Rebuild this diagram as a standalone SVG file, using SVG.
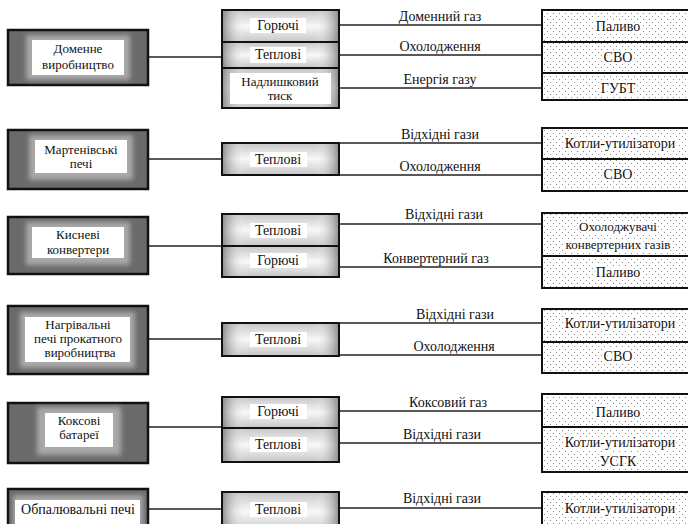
<svg xmlns="http://www.w3.org/2000/svg" width="688" height="524" viewBox="0 0 688 524" font-family="'Times New Roman', 'Liberation Serif', 'DejaVu Serif', 'Noto Serif', FreeSerif, serif">
  <defs>
    <!-- soft glow behind the white label of the source boxes -->
    <filter id="soft" x="-30%" y="-50%" width="160%" height="200%">
      <feGaussianBlur stdDeviation="2.5"/>
    </filter>
    <!-- shaded background of the energy-type cells -->
    <linearGradient id="cellV" x1="0" y1="0" x2="0" y2="1">
      <stop offset="0" stop-color="#c6c6c6"/>
      <stop offset="0.5" stop-color="#f8f8f8"/>
      <stop offset="1" stop-color="#c6c6c6"/>
    </linearGradient>
    <linearGradient id="cellH" x1="0" y1="0" x2="1" y2="0">
      <stop offset="0" stop-color="#808080" stop-opacity="0.8"/>
      <stop offset="0.2" stop-color="#ffffff" stop-opacity="0"/>
      <stop offset="0.8" stop-color="#ffffff" stop-opacity="0"/>
      <stop offset="1" stop-color="#808080" stop-opacity="0.8"/>
    </linearGradient>
    <!-- dotted fill of the consumer boxes -->
    <pattern id="dots" width="6" height="6" patternUnits="userSpaceOnUse">
      <rect width="6" height="6" fill="#fff"/>
      <rect x="1" y="1" width="1" height="1" fill="#8a8a8a"/>
      <rect x="4" y="4" width="1" height="1" fill="#8a8a8a"/>
    </pattern>
    <style>
      text { font-family: "Times New Roman", "Liberation Serif", "DejaVu Serif", "Noto Serif", FreeSerif, serif; font-size: 14px; fill: #111; text-anchor: middle; }
      .sm { font-size: 13px; }
      .src-frame { fill: #6a6a6a; stroke: #111; stroke-width: 2.5; }
      .src-glow { fill: #a9a9a9; filter: url(#soft); }
      .src-label { fill: #fff; }
      .cell { fill: url(#cellV); stroke: #111; stroke-width: 2; }
      .cell-shade { fill: url(#cellH); }
      .cell-label { fill: #fff; }
      .use-box { fill: url(#dots); stroke: #111; stroke-width: 2; }
      .use-text { paint-order: stroke; stroke: #fff; stroke-width: 4px; stroke-linejoin: round; }
      .wire { stroke: #222; stroke-width: 1.6; fill: none; }
    </style>
  </defs>

  <rect width="688" height="524" fill="#fff"/>

  <!-- connectors -->
  <g id="connectors">
    <line class="wire" x1="148" y1="57" x2="222" y2="57"/>
    <line class="wire" x1="339" y1="25" x2="542" y2="25"/>
    <line class="wire" x1="339" y1="55" x2="542" y2="55"/>
    <line class="wire" x1="339" y1="88" x2="542" y2="88"/>

    <line class="wire" x1="148" y1="159" x2="222" y2="159"/>
    <line class="wire" x1="339" y1="143" x2="542" y2="143"/>
    <line class="wire" x1="339" y1="175" x2="542" y2="175"/>

    <line class="wire" x1="148" y1="246" x2="222" y2="246"/>
    <line class="wire" x1="339" y1="224" x2="542" y2="224"/>
    <line class="wire" x1="339" y1="267" x2="542" y2="267"/>

    <line class="wire" x1="148" y1="339" x2="222" y2="339"/>
    <line class="wire" x1="339" y1="323" x2="542" y2="323"/>
    <line class="wire" x1="339" y1="355" x2="542" y2="355"/>

    <line class="wire" x1="148" y1="427" x2="222" y2="427"/>
    <line class="wire" x1="339" y1="411" x2="542" y2="411"/>
    <line class="wire" x1="339" y1="443" x2="542" y2="443"/>

    <line class="wire" x1="148" y1="509" x2="222" y2="509"/>
    <line class="wire" x1="339" y1="508" x2="542" y2="508"/>

    <text x="440" y="21">Доменний газ</text>
    <text x="440" y="51">Охолодження</text>
    <text x="440" y="84">Енергія газу</text>
    <text x="440" y="139">Відхідні гази</text>
    <text x="440" y="171">Охолодження</text>
    <text x="444" y="219">Відхідні гази</text>
    <text x="436" y="263">Конвертерний газ</text>
    <text x="455" y="319">Відхідні гази</text>
    <text x="454" y="351">Охолодження</text>
    <text x="448" y="407">Коксовий газ</text>
    <text x="442" y="439">Відхідні гази</text>
    <text x="442" y="503">Відхідні гази</text>
  </g>

  <!-- sources -->
  <g id="src-blast-furnace">
    <rect class="src-frame" x="8" y="30" width="140" height="55"/>
    <rect class="src-glow" x="26" y="35" width="104" height="45"/>
    <rect class="src-label" x="32" y="40" width="92" height="35"/>
    <text class="sm" x="78" y="53">Доменне</text>
    <text class="sm" x="78" y="69">виробництво</text>
  </g>
  <g id="src-open-hearth">
    <rect class="src-frame" x="8" y="130" width="140" height="59"/>
    <rect class="src-glow" x="29" y="135" width="104" height="45"/>
    <rect class="src-label" x="35" y="140" width="92" height="33"/>
    <text class="sm" x="81" y="154">Мартенівські</text>
    <text class="sm" x="81" y="168">печі</text>
  </g>
  <g id="src-oxygen-converter">
    <rect class="src-frame" x="8" y="217" width="140" height="57"/>
    <rect class="src-glow" x="26" y="222" width="104" height="43"/>
    <rect class="src-label" x="32" y="227" width="92" height="31"/>
    <text class="sm" x="78" y="239">Кисневі</text>
    <text class="sm" x="78" y="254">конвертери</text>
  </g>
  <g id="src-reheating">
    <rect class="src-frame" x="8" y="306" width="140" height="68"/>
    <rect class="src-glow" x="20" y="312" width="115" height="56"/>
    <rect class="src-label" x="25" y="317" width="105" height="45"/>
    <text class="sm" x="78" y="329">Нагрівальні</text>
    <text class="sm" x="78" y="343">печі прокатного</text>
    <text class="sm" x="80" y="357">виробництва</text>
  </g>
  <g id="src-coke">
    <rect class="src-frame" x="8" y="403" width="140" height="60"/>
    <rect class="src-glow" x="37" y="407" width="84" height="48"/>
    <rect class="src-label" x="45" y="413" width="68" height="34"/>
    <text class="sm" x="79" y="425">Коксові</text>
    <text class="sm" x="79" y="439">батареї</text>
  </g>
  <g id="src-roasting">
    <rect class="src-frame" x="8" y="489" width="140" height="45"/>
    <rect class="src-glow" x="13" y="495" width="130" height="34"/>
    <rect class="src-label" x="15" y="500" width="125" height="26"/>
    <text x="78" y="514">Обпалювальні печі</text>
  </g>

  <!-- energy types -->
  <g id="types-blast-furnace">
    <rect class="cell" x="222" y="10" width="117" height="32"/>
    <rect class="cell-shade" x="223" y="11" width="115" height="30"/>
    <rect class="cell-label" x="250" y="18" width="56" height="15"/>
    <text x="278" y="30">Горючі</text>
    <rect class="cell" x="222" y="42" width="117" height="26"/>
    <rect class="cell-shade" x="223" y="43" width="115" height="24"/>
    <rect class="cell-label" x="250" y="47" width="56" height="16"/>
    <text x="278" y="59">Теплові</text>
    <rect class="cell" x="222" y="68" width="117" height="40"/>
    <rect class="cell-shade" x="223" y="69" width="115" height="38"/>
    <rect class="cell-label" x="230" y="73" width="101" height="31"/>
    <text class="sm" x="280" y="86">Надлишковий</text>
    <text class="sm" x="280" y="100">тиск</text>
  </g>
  <g id="types-open-hearth">
    <rect class="cell" x="222" y="143" width="117" height="32"/>
    <rect class="cell-shade" x="223" y="144" width="115" height="30"/>
    <rect class="cell-label" x="250" y="152" width="57" height="15"/>
    <text x="278" y="164">Теплові</text>
  </g>
  <g id="types-oxygen-converter">
    <rect class="cell" x="222" y="214" width="117" height="32"/>
    <rect class="cell-shade" x="223" y="215" width="115" height="30"/>
    <rect class="cell-label" x="250" y="223" width="57" height="15"/>
    <text x="278" y="235">Теплові</text>
    <rect class="cell" x="222" y="246" width="117" height="31"/>
    <rect class="cell-shade" x="223" y="247" width="115" height="29"/>
    <rect class="cell-label" x="250" y="253" width="57" height="15"/>
    <text x="278" y="265">Горючі</text>
  </g>
  <g id="types-reheating">
    <rect class="cell" x="222" y="323" width="117" height="33"/>
    <rect class="cell-shade" x="223" y="324" width="115" height="31"/>
    <rect class="cell-label" x="250" y="332" width="57" height="15"/>
    <text x="278" y="344">Теплові</text>
  </g>
  <g id="types-coke">
    <rect class="cell" x="222" y="397" width="117" height="31"/>
    <rect class="cell-shade" x="223" y="398" width="115" height="29"/>
    <rect class="cell-label" x="250" y="404" width="57" height="15"/>
    <text x="278" y="416">Горючі</text>
    <rect class="cell" x="222" y="428" width="117" height="34"/>
    <rect class="cell-shade" x="223" y="429" width="115" height="32"/>
    <rect class="cell-label" x="250" y="437" width="57" height="15"/>
    <text x="278" y="449">Теплові</text>
  </g>
  <g id="types-roasting">
    <rect class="cell" x="222" y="492" width="117" height="40"/>
    <rect class="cell-shade" x="223" y="493" width="115" height="38"/>
    <rect class="cell-label" x="250" y="502" width="57" height="15"/>
    <text x="278" y="514">Теплові</text>
  </g>

  <!-- consumers -->
  <g id="use-blast-furnace">
    <rect class="use-box" x="542" y="10" width="160" height="32"/>
    <rect class="use-box" x="542" y="42" width="160" height="31"/>
    <rect class="use-box" x="542" y="73" width="160" height="27"/>
    <text class="use-text" x="618" y="31">Паливо</text>
    <text class="use-text" x="618" y="62">СВО</text>
    <text class="use-text" x="618" y="93">ГУБТ</text>
  </g>
  <g id="use-open-hearth">
    <rect class="use-box" x="542" y="128" width="160" height="31"/>
    <rect class="use-box" x="542" y="159" width="160" height="32"/>
    <text class="use-text" x="620" y="148">Котли-утилізатори</text>
    <text class="use-text" x="618" y="179">СВО</text>
  </g>
  <g id="use-oxygen-converter">
    <rect class="use-box" x="542" y="213" width="160" height="43"/>
    <rect class="use-box" x="542" y="256" width="160" height="32"/>
    <text class="use-text sm" x="618" y="231">Охолоджувачі</text>
    <text class="use-text sm" x="618" y="249">конвертерних газів</text>
    <text class="use-text" x="618" y="277">Паливо</text>
  </g>
  <g id="use-reheating">
    <rect class="use-box" x="542" y="309" width="160" height="33"/>
    <rect class="use-box" x="542" y="342" width="160" height="31"/>
    <text class="use-text" x="620" y="328">Котли-утилізатори</text>
    <text class="use-text" x="618" y="361">СВО</text>
  </g>
  <g id="use-coke">
    <rect class="use-box" x="542" y="394" width="160" height="33"/>
    <rect class="use-box" x="542" y="427" width="160" height="45"/>
    <text class="use-text" x="618" y="417">Паливо</text>
    <text class="use-text" x="620" y="447">Котли-утилізатори</text>
    <text class="use-text" x="618" y="466">УСГК</text>
  </g>
  <g id="use-roasting">
    <rect class="use-box" x="542" y="492" width="160" height="40"/>
    <text class="use-text" x="620" y="513">Котли-утилізатори</text>
  </g>
</svg>
